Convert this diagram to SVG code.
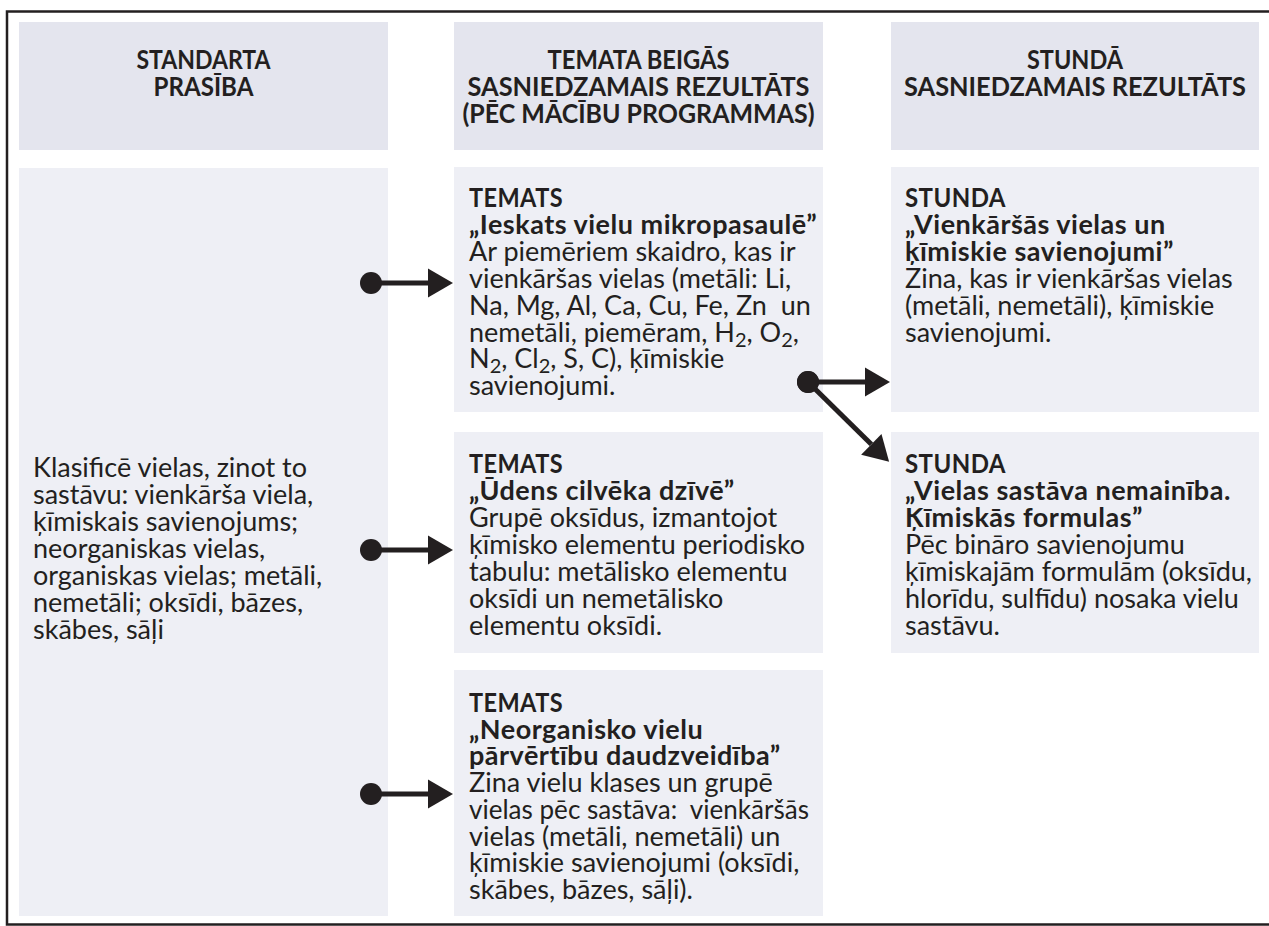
<svg xmlns="http://www.w3.org/2000/svg" width="1269" height="926" viewBox="0 0 1269 926">
  <defs>
    <style>
      .hdr { fill: #e4e5ee; }
      .box { fill: #eeeff5; }
      text { font-family: "Lato", "Liberation Sans", sans-serif; font-size: 27px; fill: #231f20; }
      .b { font-weight: bold; letter-spacing: 0.5px; }
      .hd { font-weight: bold; text-anchor: middle; }
      .pre { white-space: pre; }
      .sub { font-size: 20px; }
      .conn { stroke: #231f20; stroke-width: 5; fill: none; marker-start: url(#dot); marker-end: url(#head); }
    </style>
    <marker id="head" markerUnits="userSpaceOnUse" markerWidth="26" markerHeight="30" refX="0" refY="14.5" orient="auto" overflow="visible">
      <path d="M0,0 L25,14.5 L0,29 Z" fill="#231f20"/>
    </marker>
    <marker id="dot" markerUnits="userSpaceOnUse" markerWidth="24" markerHeight="24" refX="11" refY="11" orient="auto" overflow="visible">
      <circle cx="11" cy="11" r="11" fill="#231f20"/>
    </marker>
  </defs>

  <rect width="1269" height="926" fill="#ffffff"/>

  <!-- outer frame, open on the right -->
  <polyline points="1269,11.5 7,11.5 7,924.5 1269,924.5" fill="none" stroke="#231f20" stroke-width="2.5"/>

  <!-- column headers -->
  <g id="hdr-standard">
    <rect class="hdr" x="19" y="22" width="369" height="128"/>
    <text class="hd" x="203.5" y="69" textLength="134" lengthAdjust="spacingAndGlyphs">STANDARTA</text>
    <text class="hd" x="203.5" y="96" textLength="100" lengthAdjust="spacingAndGlyphs">PRASĪBA</text>
  </g>
  <g id="hdr-topic">
    <rect class="hdr" x="454" y="22" width="369" height="128"/>
    <text class="hd" x="638.5" y="69" textLength="182" lengthAdjust="spacingAndGlyphs">TEMATA BEIGĀS</text>
    <text class="hd" x="638.5" y="96" textLength="342" lengthAdjust="spacingAndGlyphs">SASNIEDZAMAIS REZULTĀTS</text>
    <text class="hd" x="638.5" y="123" textLength="352" lengthAdjust="spacingAndGlyphs">(PĒC MĀCĪBU PROGRAMMAS)</text>
  </g>
  <g id="hdr-lesson">
    <rect class="hdr" x="891" y="22" width="368" height="128"/>
    <text class="hd" x="1075" y="69" textLength="96" lengthAdjust="spacingAndGlyphs">STUNDĀ</text>
    <text class="hd" x="1075" y="96" textLength="342" lengthAdjust="spacingAndGlyphs">SASNIEDZAMAIS REZULTĀTS</text>
  </g>

  <!-- standard requirement -->
  <g id="standard">
    <rect class="box" x="19" y="168" width="369" height="748"/>
    <text x="33" y="477">Klasificē vielas, zinot to<tspan x="33" dy="27">sastāvu: vienkārša viela,</tspan><tspan x="33" dy="27">ķīmiskais savienojums;</tspan><tspan x="33" dy="27">neorganiskas vielas,</tspan><tspan x="33" dy="27">organiskas vielas; metāli,</tspan><tspan x="33" dy="27">nemetāli; oksīdi, bāzes,</tspan><tspan x="33" dy="27">skābes, sāļi</tspan></text>
  </g>

  <!-- topic results -->
  <g id="topic-1">
    <rect class="box" x="454" y="167" width="369" height="245"/>
    <text x="469" y="207" class="b" textLength="94" lengthAdjust="spacingAndGlyphs">TEMATS</text>
    <text x="469" y="233.9" class="pre"><tspan class="b">„Ieskats vielu mikropasaulē”</tspan><tspan x="469" dy="26.9">Ar piemēriem skaidro, kas ir</tspan><tspan x="469" dy="26.9">vienkāršas vielas (metāli: Li,</tspan><tspan x="469" dy="26.9">Na, Mg, Al, Ca, Cu, Fe, Zn  un</tspan><tspan x="469" dy="26.9">nemetāli, piemēram, H</tspan><tspan dy="5" class="sub">2</tspan><tspan dy="-5">, O</tspan><tspan dy="5" class="sub">2</tspan><tspan dy="-5">,</tspan><tspan x="469" dy="26.9">N</tspan><tspan dy="5" class="sub">2</tspan><tspan dy="-5">, Cl</tspan><tspan dy="5" class="sub">2</tspan><tspan dy="-5">, S, C), ķīmiskie</tspan><tspan x="469" dy="26.9">savienojumi.</tspan></text>
  </g>
  <g id="topic-2">
    <rect class="box" x="454" y="432" width="369" height="221"/>
    <text x="469" y="473" class="b" textLength="94" lengthAdjust="spacingAndGlyphs">TEMATS</text>
    <text x="469" y="500"><tspan class="b">„Ūdens cilvēka dzīvē”</tspan><tspan x="469" dy="27">Grupē oksīdus, izmantojot</tspan><tspan x="469" dy="27">ķīmisko elementu periodisko</tspan><tspan x="469" dy="27">tabulu: metālisko elementu</tspan><tspan x="469" dy="27">oksīdi un nemetālisko</tspan><tspan x="469" dy="27">elementu oksīdi.</tspan></text>
  </g>
  <g id="topic-3">
    <rect class="box" x="454" y="670" width="369" height="246"/>
    <text x="469" y="712" class="b" textLength="94" lengthAdjust="spacingAndGlyphs">TEMATS</text>
    <text x="469" y="738.7"><tspan class="b">„Neorganisko vielu</tspan><tspan x="469" dy="26.7" class="b">pārvērtību daudzveidība”</tspan><tspan x="469" dy="26.7">Zina vielu klases un grupē</tspan></text>
    <text x="469" y="818.8" class="pre" textLength="340" lengthAdjust="spacingAndGlyphs">vielas pēc sastāva:  vienkāršās</text>
    <text x="469" y="845.5">vielas (metāli, nemetāli) un<tspan x="469" dy="26.7">ķīmiskie savienojumi (oksīdi,</tspan><tspan x="469" dy="26.7">skābes, bāzes, sāļi).</tspan></text>
  </g>

  <!-- lesson results -->
  <g id="lesson-1">
    <rect class="box" x="891" y="167" width="368" height="245"/>
    <text x="905" y="207" class="b" textLength="101" lengthAdjust="spacingAndGlyphs">STUNDA</text>
    <text x="905" y="234"><tspan class="b">„Vienkāršās vielas un</tspan><tspan x="905" dy="27" class="b">ķīmiskie savienojumi”</tspan><tspan x="905" dy="27">Zina, kas ir vienkāršas vielas</tspan><tspan x="905" dy="27">(metāli, nemetāli), ķīmiskie</tspan><tspan x="905" dy="27">savienojumi.</tspan></text>
  </g>
  <g id="lesson-2">
    <rect class="box" x="891" y="432" width="368" height="221"/>
    <text x="905" y="473" class="b" textLength="101" lengthAdjust="spacingAndGlyphs">STUNDA</text>
    <text x="905" y="500"><tspan class="b">„Vielas sastāva nemainība.</tspan><tspan x="905" dy="27" class="b">Ķīmiskās formulas”</tspan><tspan x="905" dy="27">Pēc bināro savienojumu</tspan><tspan x="905" dy="27">ķīmiskajām formulām (oksīdu,</tspan><tspan x="905" dy="27">hlorīdu, sulfīdu) nosaka vielu</tspan><tspan x="905" dy="27">sastāvu.</tspan></text>
  </g>

  <!-- connectors -->
  <g id="connectors">
    <line class="conn" x1="371" y1="283" x2="428" y2="283"/>
    <line class="conn" x1="371" y1="550" x2="428" y2="550"/>
    <line class="conn" x1="371" y1="794" x2="428" y2="794"/>
    <line class="conn" x1="808" y1="382" x2="865" y2="382"/>
    <line class="conn" x1="808" y1="382" x2="871.3" y2="444.3"/>
  </g>
</svg>
